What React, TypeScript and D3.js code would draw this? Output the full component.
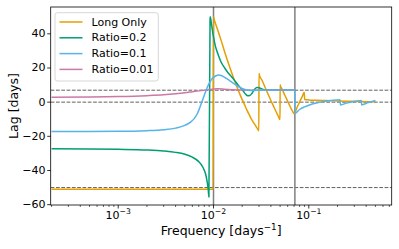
import React from "react";
import * as d3 from "d3";

// ---- data (frequency in 1/days, lag in days) ----
const longF = [0.0002, 0.001, 0.005, 0.0099, 0.01, 0.0101, 0.0108, 0.0115, 0.0122, 0.013, 0.014, 0.015, 0.0162, 0.0175, 0.0187, 0.02, 0.0212, 0.0225, 0.0238, 0.025, 0.0262, 0.0275, 0.0287, 0.0299,
  0.03, 0.0301, 0.0325, 0.035, 0.0375, 0.04, 0.0425, 0.045, 0.0475, 0.0499,
  0.05, 0.0501, 0.0525, 0.055, 0.0575, 0.06, 0.0625, 0.065, 0.0675, 0.0702,
  0.075, 0.08, 0.085, 0.0895, 0.0905, 0.1, 0.12, 0.15, 0.2, 0.3, 0.4, 0.5];
const longLag = [-51, -51, -51, -51, 50, 49, 44, 39.5, 35, 30, 24.5, 19.5, 14.3, 9.3, 5.3, 1.5, -1.6, -4.8, -7.6, -10, -11.8, -13.6, -15.2, -16.8,
  16.8, 16.4, 12.5, 8.3, 4.5, 1, -2.2, -5.2, -7.8, -10.2,
  10.2, 9.9, 7.6, 5, 2.8, 0.6, -1.6, -3.6, -5.3, -6.8,
  -3.3, 0.1, 3.1, 5.8, 1.6, 1.3, 1.1, 0.9, 0.7, 0.5, 0.3, 0.2];

const r02F = [0.0002, 0.0005, 0.001, 0.002, 0.003, 0.004, 0.005, 0.006, 0.007, 0.0075, 0.008, 0.0083, 0.0086, 0.0088, 0.00895, 0.0092, 0.00925, 0.0095, 0.0099, 0.0105, 0.0112, 0.012, 0.0131, 0.0142, 0.0154, 0.0167, 0.018, 0.0193, 0.0205, 0.0218, 0.0228, 0.024, 0.0255, 0.027, 0.0285, 0.03, 0.032, 0.035, 0.04, 0.05, 0.06, 0.0714];
const r02Lag = [-27.3, -27.4, -27.6, -28.0, -28.6, -29.4, -30.5, -32.2, -34.8, -36.8, -39.8, -42.5, -47, -51, -55.5, 48.5, 50, 46, 39.6, 32.5, 27.8, 23.5, 20, 17.2, 15, 12.6, 10.2, 8.2, 6.5, 4.6, 3.8, 3.9, 5.4, 7.5, 8.6, 8.5, 7.8, 7.2, 7.1, 7.0, 7.0, 7.0];

const r01F = [0.0002, 0.001, 0.002, 0.003, 0.004, 0.005, 0.0057, 0.0063, 0.0068, 0.0072, 0.0076, 0.008, 0.0085, 0.009, 0.0097, 0.0105, 0.0113, 0.0122, 0.0135, 0.015, 0.017, 0.019, 0.021, 0.023, 0.026, 0.03, 0.04, 0.05, 0.06, 0.0713,
  0.0716, 0.08, 0.09, 0.1, 0.12, 0.14, 0.17, 0.2125, 0.2145, 0.25, 0.3, 0.356, 0.358, 0.42, 0.5];
const r01Lag = [-17.2, -17.1, -16.7, -16.1, -15.2, -13.6, -11.8, -9.5, -6.5, -3, 0.5, 4, 8, 11, 13.8, 15.3, 15.9, 15.5, 14, 12.3, 10.2, 8.6, 7.6, 7.0, 6.8, 7.0, 7.1, 7.1, 7.1, 7.1,
  -6.5, -4.3, -2.8, -1.8, -0.5, 0.3, 0.9, 1.4, -1.6, -0.5, 0.4, 1.0, -1.6, -0.2, 1.0];

const r001F = [0.0002, 0.001, 0.002, 0.003, 0.004, 0.005, 0.006, 0.007, 0.008, 0.009, 0.01, 0.011, 0.013, 0.016, 0.02, 0.03, 0.05, 0.0714];
const r001Lag = [2.9, 3.3, 3.8, 4.3, 4.9, 5.5, 6.1, 6.6, 7.0, 7.4, 7.7, 7.8, 7.6, 7.3, 7.1, 7.0, 7.0, 7.0];

const seriesNames = ["Long Only", "Ratio=0.2", "Ratio=0.1", "Ratio=0.01"];
const seriesColors = ["#E69F00", "#009E73", "#56B4E9", "#CC79A7"];
const hLines = [7, 0, -50];
const vLines = [0.01, 1 / 14];
const yTicks = [-60, -40, -20, 0, 20, 40];
const xTickExps = [-3, -2, -1];

const W = 399, H = 249;
const L = 50.7, R = 391.7, T = 7, B = 205;
const FONT = "DejaVu Sans, sans-serif";

export default function App() {
  const x = d3.scaleLog().domain([1.957e-4, 0.741]).range([L, R]);
  const y = d3.scaleLinear().domain([-60.2, 55.7]).range([B, T]);
  const line = d3.line<[number, number]>().x(d => x(d[0])).y(d => y(d[1])).curve(d3.curveMonotoneX);
  const series = [
    { f: longF, v: longLag },
    { f: r02F, v: r02Lag },
    { f: r001F, v: r001Lag },
    { f: r01F, v: r01Lag },
  ];
  const colorIdx = [0, 1, 3, 2];
  const minor: number[] = [];
  for (let e = -4; e <= 0; e++) for (let m = 2; m <= 9; m++) {
    const v = m * Math.pow(10, e);
    if (v >= 1.957e-4 && v <= 0.741) minor.push(v);
  }
  const rows = [22, 37.8, 53.6, 69.4];
  return (
    <svg width={W} height={H} style={{ position: "absolute", left: 0, top: 0, background: "#fff" }} fontFamily={FONT}>
      <defs>
        <clipPath id="clip"><rect x={L} y={T} width={R - L} height={B - T} /></clipPath>
      </defs>
      <g clipPath="url(#clip)">
        {hLines.map((h, i) => (
          <line key={"h" + i} x1={L} x2={R} y1={y(h)} y2={y(h)} stroke="#444" strokeOpacity={0.85} strokeWidth={1} strokeDasharray="3.7,1.6" />
        ))}
        {vLines.map((v, i) => (
          <line key={"v" + i} x1={x(v)} x2={x(v)} y1={T} y2={B} stroke="#808080" strokeWidth={1.5} />
        ))}
        {series.map((s, i) => (
          <path key={"s" + i} d={line(s.f.map((f, j) => [f, s.v[j]] as [number, number])) || ""} fill="none" stroke={seriesColors[colorIdx[i]]} strokeWidth={1.5} strokeLinejoin="round" />
        ))}
      </g>
      <rect x={L} y={T} width={R - L} height={B - T} fill="none" stroke="#000" strokeWidth={0.8} />
      {yTicks.map(t => (
        <g key={"yt" + t}>
          <line x1={L - 3.5} x2={L} y1={y(t)} y2={y(t)} stroke="#000" strokeWidth={0.8} />
          <text x={45.5} y={y(t)} textAnchor="end" dominantBaseline="central" fontSize={11}>{t < 0 ? "\u2212" + Math.abs(t) : String(t)}</text>
        </g>
      ))}
      {minor.map((m, i) => (
        <line key={"mn" + i} x1={x(m)} x2={x(m)} y1={B} y2={B + 2} stroke="#000" strokeWidth={0.6} />
      ))}
      {xTickExps.map(e => (
        <g key={"xt" + e}>
          <line x1={x(Math.pow(10, e))} x2={x(Math.pow(10, e))} y1={B} y2={B + 3.5} stroke="#000" strokeWidth={0.8} />
          <text x={x(Math.pow(10, e))} y={218.5} textAnchor="middle" fontSize={11}>
            10<tspan fontSize={7.7} dy={-4.8}>{"\u2212" + Math.abs(e)}</tspan>
          </text>
        </g>
      ))}
      <text x={(L + R) / 2} y={235} textAnchor="middle" fontSize={12.5}>
        Frequency [days<tspan fontSize={8.8} dy={-5}>{"\u22121"}</tspan><tspan dy={5}>]</tspan>
      </text>
      <text transform={`translate(17.5,${(T + B) / 2}) rotate(-90)`} textAnchor="middle" fontSize={12.5}>Lag [days]</text>
      <rect x={55} y={12.7} width={103.3} height={68.3} rx={2.5} fill="#fff" fillOpacity={0.8} stroke="#cccccc" strokeWidth={0.8} />
      {seriesNames.map((n, i) => (
        <g key={"lg" + i}>
          <line x1={59.5} x2={82.5} y1={rows[i]} y2={rows[i]} stroke={seriesColors[i]} strokeWidth={1.5} />
          <text x={91.5} y={rows[i]} dominantBaseline="central" fontSize={11}>{n}</text>
        </g>
      ))}
    </svg>
  );
}
